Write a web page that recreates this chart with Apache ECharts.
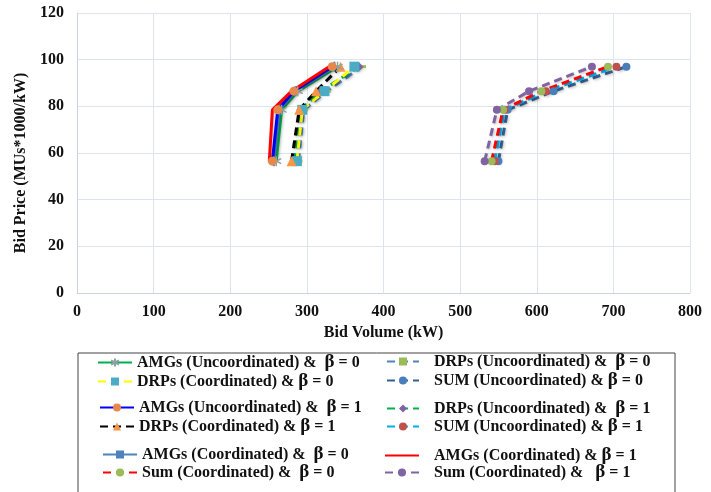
<!DOCTYPE html>
<html><head><meta charset="utf-8">
<script src="https://cdn.jsdelivr.net/npm/echarts@6/dist/echarts.min.js"></script>
<style>html,body{margin:0;padding:0;background:#fff}#c{width:711px;height:492px}</style>
</head><body><div id="c"></div>
<script>
// Bid prices (MUs*1000/kW) for the four bid steps
const prices = [56.5, 78.5, 86.5, 97];
// Bid volumes (kW) at each step
const amgCoordB1   = [251, 255, 280, 329];
const amgUncoordB1 = [255, 262, 283, 333];
const amgCoordB0   = [257, 264, 285, 336];
const amgUncoordB0 = [260, 267, 288, 340];
const drpCoordB1   = [280, 290, 312, 344];
const drpUncoordB1 = [284, 292, 318, 368];
const drpCoordB0   = [287, 294, 323, 362];
const drpUncoordB0 = [289, 296, 326, 372];
const sumCoordB1   = [532, 548, 590, 672];
const sumCoordB0   = [541, 556, 606, 693];
const sumUncoordB1 = [545, 558, 612, 704];
const sumUncoordB0 = [550, 562, 622, 717];
const xTicks = [0, 100, 200, 300, 400, 500, 600, 700, 800];
const yTicks = [0, 20, 40, 60, 80, 100, 120];

const names = {
  a: 'AMGs (Uncoordinated) &  β = 0',
  b: 'DRPs (Coordinated) & β = 0',
  c: 'AMGs (Uncoordinated) &  β = 1',
  d: 'DRPs (Coordinated) & β = 1',
  e: 'AMGs (Coordinated) &  β = 0',
  f: 'Sum (Coordinated) &  β = 0',
  g: 'DRPs (Uncoordinated) &  β = 0',
  h: 'SUM (Uncoordinated) & β = 0',
  i: 'DRPs (Uncoordinated) &  β = 1',
  j: 'SUM (Uncoordinated) & β = 1',
  k: 'AMGs (Coordinated) & β = 1',
  l: 'Sum (Coordinated) &   β = 1'
};
function pts(xs){ return xs.map((x,i)=>[x, prices[i]]); }
function ser(name, xs, color, type, symbol, item, size, show){
  return {
    name, type:'line', data: pts(xs), symbol: symbol, symbolSize: size||8,
    showSymbol: show !== false,
    lineStyle:{color, width:3, type: type==='dash' ? [8,5] : 'solid',
      shadowColor:'rgba(0,0,0,0.25)', shadowBlur:3, shadowOffsetX:1, shadowOffsetY:1},
    itemStyle: item,
    emphasis:{disabled:true}, z: 2
  };
}
const starPath = 'path://M0,-10L0,10M-8.7,-5L8.7,5M-8.7,5L8.7,-5';
const barPath = 'path://M-1,-10L1,-10L1,10L-1,10Z';
const series = [
  ser(names.g, drpUncoordB0, '#4f81bd', 'dash', 'rect', {color:'#9bbb59'}, [8,3]),
  ser(names.i, drpUncoordB1, '#00b050', 'dash', 'diamond', {color:'#8064a2'}, 9),
  ser(names.b, drpCoordB0, '#ffff00', 'dash', 'rect', {color:'#4bacc6'}, 10),
  ser(names.d, drpCoordB1, '#000000', 'dash', 'triangle', {color:'#f79646'}, 10),
  ser(names.a, amgUncoordB0, '#00b050', 'solid', starPath, {color:'none', borderColor:'#8ca3a3', borderWidth:1.5}, 10),
  ser(names.e, amgCoordB0, '#4f81bd', 'solid', barPath, {color:'#4f81bd'}, [2,10]),
  ser(names.c, amgUncoordB1, '#0000ff', 'solid', 'circle', {color:'#e8874a'}, 9),
  ser(names.k, amgCoordB1, '#ff0000', 'solid', 'circle', {color:'rgba(0,0,0,0)'}, 1, false),
  ser(names.h, sumUncoordB0, '#376092', 'dash', 'circle', {color:'#4a7ebb'}, 8),
  ser(names.j, sumUncoordB1, '#00b0f0', 'dash', 'circle', {color:'#c0504d'}, 8),
  ser(names.f, sumCoordB0, '#ff0000', 'dash', 'circle', {color:'#9bbb59'}, 8),
  ser(names.l, sumCoordB1, '#8064a2', 'dash', 'circle', {color:'#8064a2'}, 8)
];
const rich = {
  p:{width:10},
  t:{fontFamily:'Liberation Serif', fontWeight:'bold', fontSize:16, color:'#111'},
  b:{fontFamily:'Liberation Serif', fontWeight:'bold', fontSize:19, color:'#111'}
};
function fmt(pad){
  return n => {
    const k = n.indexOf('β');
    return (pad ? '{p|}' : '') + '{t|' + n.slice(0,k) + '}{b|β}{t|' + n.slice(k+1) + '}';
  };
}
// one legend per entry: [name, left, rowCenterY, padText, iconWidth]
const legendLayout = [
  [names.a, 97, 364, false, 34], [names.b, 97, 383, false, 34],
  [names.c, 99, 409, false, 34], [names.d, 99, 428, false, 34],
  [names.e, 102, 456, false, 34], [names.f, 102, 474, false, 34],
  [names.g, 386, 363, true, 32], [names.h, 386, 382, true, 32],
  [names.i, 386, 410, true, 32], [names.j, 386, 428, true, 32],
  [names.k, 384, 457, true, 34], [names.l, 384, 474, true, 34]
];
const legends = legendLayout.map(([n, left, cy, pad, w]) => ({
  left, top: cy - 11, orient:'horizontal', itemWidth:w, itemHeight:10,
  data:[{name:n}], formatter: fmt(pad),
  textStyle:{fontFamily:'Liberation Serif', fontWeight:'bold', fontSize:16, color:'#111', rich},
  selectedMode:false, padding:0
}));
const axisFont = {fontFamily:'Liberation Serif', fontWeight:'bold', fontSize:16, color:'#111'};
const chart = echarts.init(document.getElementById('c'));
chart.setOption({
  animation:false,
  grid:{left:77, right:21, top:13, bottom:199},
  xAxis:{type:'value', min:0, max:800, interval:100,
    name:'Bid Volume (kW)', nameLocation:'middle', nameGap:31,
    nameTextStyle:axisFont,
    axisLine:{show:true, lineStyle:{color:'#c9d5e6'}}, axisTick:{show:false},
    axisLabel:Object.assign({margin:11, formatter: v => xTicks.includes(v) ? String(v) : ''}, axisFont),
    splitLine:{show:true, lineStyle:{color:'#dce4f0'}}},
  yAxis:{type:'value', min:0, max:120, interval:20,
    name:'Bid Price (MUs*1000/kW)', nameLocation:'middle', nameGap:48, nameRotate:90,
    nameTextStyle:Object.assign({padding:[0,20,0,0]}, axisFont),
    axisLine:{show:true, lineStyle:{color:'#c9d5e6'}}, axisTick:{show:false},
    axisLabel:Object.assign({margin:13, formatter: v => yTicks.includes(v) ? String(v) : ''}, axisFont),
    splitLine:{show:true, lineStyle:{color:'#dce4f0'}}},
  legend: legends,
  graphic:[{type:'rect', shape:{x:78, y:353, width:597, height:145},
    style:{fill:'none', stroke:'#444', lineWidth:1}, silent:true}],
  series
});
</script></body></html>
